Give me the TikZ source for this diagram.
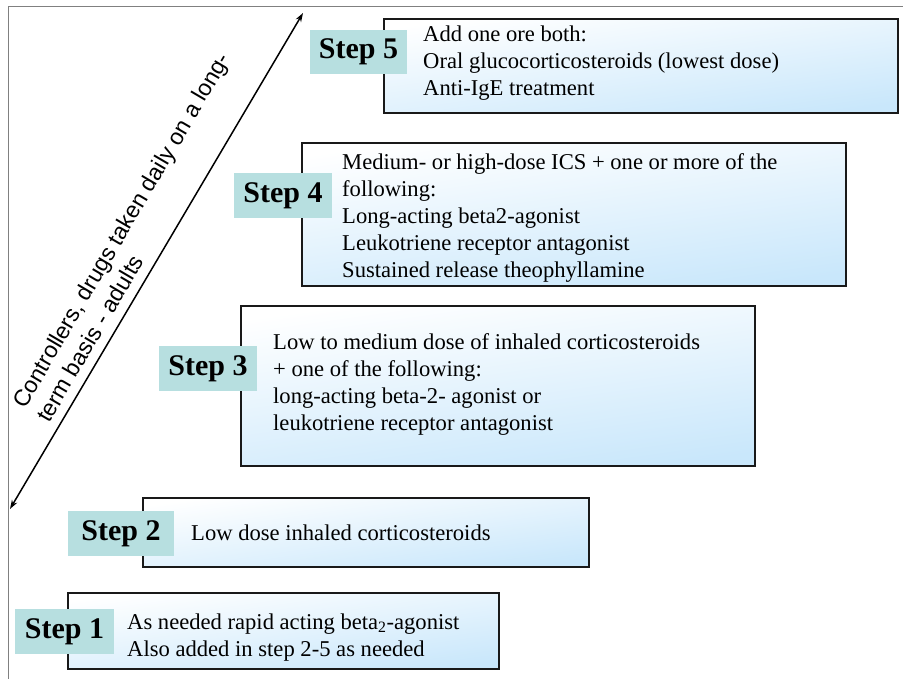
\documentclass[tikz,border=0pt]{standalone}
\usepackage{fontspec}
\setmainfont{Liberation Serif}
\newfontfamily\arialfont{Liberation Sans}
\usetikzlibrary{arrows.meta}
\definecolor{boxblue}{HTML}{C9E7FB}
\definecolor{labelteal}{HTML}{B7DFE0}
\definecolor{framegray}{HTML}{808080}
\tikzset{
  stepbox/.style={draw=black!90, line width=1.6pt, top color=white, bottom color=boxblue, shading angle=8},
  steplabel/.style={fill=labelteal, inner sep=0pt, font=\fontsize{30}{32}\selectfont\bfseries},
  steptext/.style={anchor=west, inner sep=0pt, align=left, font=\fontsize{22.6}{27}\selectfont},
}
\begin{document}
\begin{tikzpicture}[x=1pt,y=-1pt]
\useasboundingbox (0,0) rectangle (903,679);
% frame
\draw[framegray, line width=1pt] (8,679) -- (8,7) -- (903,7);
% boxes
\path[stepbox] (384,19) rectangle (898,113);
\path[stepbox] (302,143) rectangle (846,286);
\path[stepbox] (241,306) rectangle (755,466);
\path[stepbox] (143,498) rectangle (589,567);
\path[stepbox] (68,593) rectangle (499,669);
% labels
\node[steplabel, minimum width=97pt, minimum height=44pt] (l5) at (358.5,52) {Step 5};
\node[steplabel, minimum width=98pt, minimum height=45pt] (l4) at (283,195.5) {Step 4};
\node[steplabel, minimum width=98pt, minimum height=45pt] (l3) at (208,368.5) {Step 3};
\node[steplabel, minimum width=106pt, minimum height=45pt] (l2) at (121,533.5) {Step 2};
\node[steplabel, minimum width=99pt, minimum height=45pt] (l1) at (64.5,631.5) {Step 1};
% texts
\node[steptext] (t5) at (423,63.5) {Add one ore both:\\Oral glucocorticosteroids (lowest dose)\\Anti-IgE treatment};
\node[steptext] (t4) at (342,217.5) {Medium- or high-dose ICS + one or more of the\\following:\\Long-acting beta2-agonist\\Leukotriene receptor antagonist\\Sustained release theophyllamine};
\node[steptext] (t3) at (273,384.5) {Low to medium dose of inhaled corticosteroids\\+ one of the following:\\long-acting beta-2- agonist or\\leukotriene receptor antagonist};
\node[steptext] (t2) at (191,532.5) {Low dose inhaled corticosteroids};
\node[steptext] (t1) at (127,637.5) {As needed rapid acting beta\textsubscript{2}-agonist\\Also added in step 2-5 as needed};
% arrow
\coordinate (abot) at (10,509);
\coordinate (atop) at (303,13);
\draw[line width=1.5pt, {Stealth[length=9pt,width=6pt]}-{Stealth[length=9pt,width=6pt]}] (abot) -- (atop);
\node[rotate=59.6, align=left, inner sep=0pt, font=\arialfont\fontsize{23}{28}\selectfont] (axl) at (133,237) {Controllers, drugs taken daily on a long-\\term basis - adults};
\end{tikzpicture}
\end{document}
